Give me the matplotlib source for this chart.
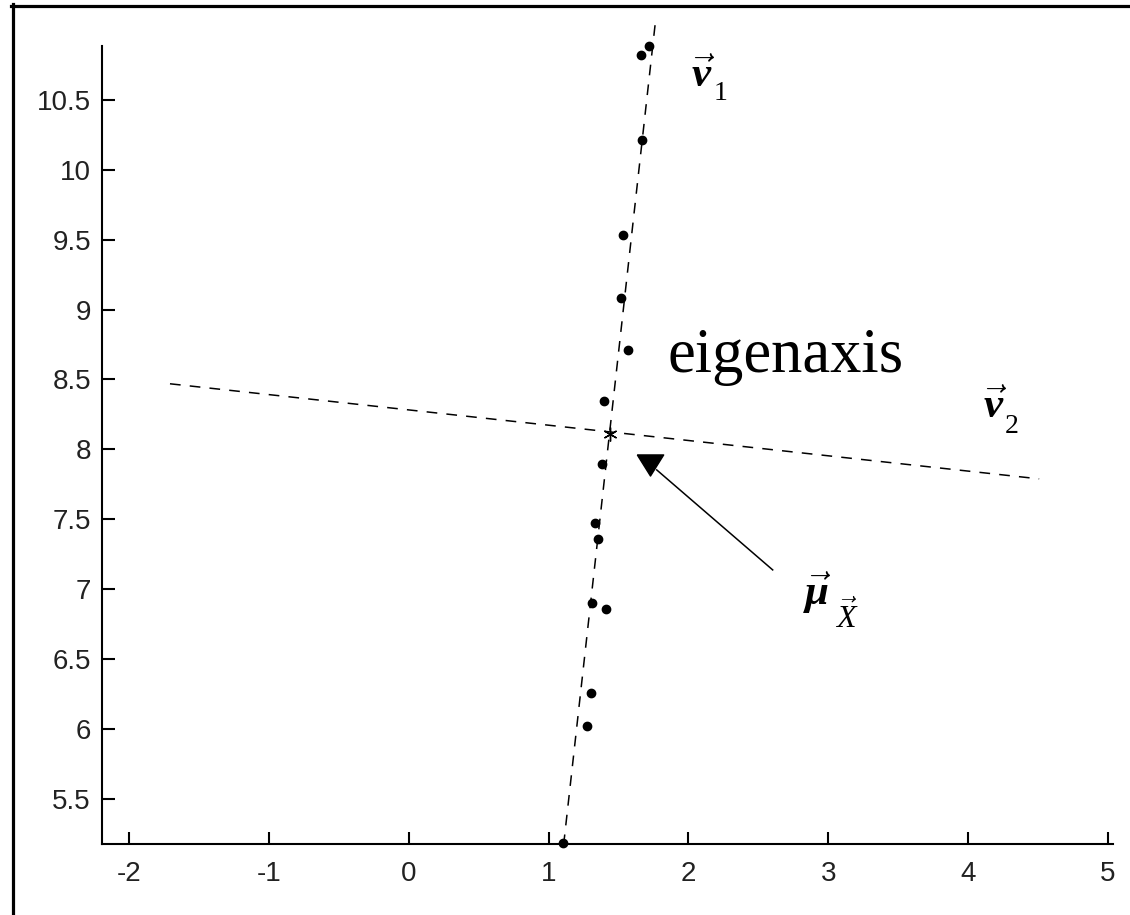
import numpy as np
import matplotlib
matplotlib.use("Agg")
import matplotlib.pyplot as plt
from matplotlib.lines import Line2D

plt.rcParams['mathtext.fontset'] = 'custom'
plt.rcParams['mathtext.it'] = 'Liberation Serif:italic:bold'
plt.rcParams['mathtext.rm'] = 'Liberation Serif'
plt.rcParams['mathtext.bf'] = 'Liberation Serif:bold'
plt.rcParams['mathtext.cal'] = 'Liberation Serif:italic'
plt.rcParams['axes.unicode_minus'] = False

# ---- data ----
pts_x = [1.716, 1.658, 1.665, 1.530, 1.515, 1.565, 1.394, 1.380,
         1.330, 1.351, 1.308, 1.408, 1.301, 1.272, 1.101]
pts_y = [10.886, 10.822, 10.214, 9.534, 9.084, 8.712, 8.347, 7.896,
         7.474, 7.360, 6.902, 6.859, 6.258, 6.022, 5.185]

mean_x = [1.436]
mean_y = [8.11]

v1_x = [1.107, 1.765]
v1_y = [5.17, 11.07]
v2_x = [-1.707, 4.507]
v2_y = [8.469, 7.789]

tri_x = [1.723]
tri_y = [7.889]
arrow_x = [1.773, 2.602]
arrow_y = [7.853, 7.138]

xticks = [-2, -1, 0, 1, 2, 3, 4, 5]
yticks = [5.5, 6, 6.5, 7, 7.5, 8, 8.5, 9, 9.5, 10, 10.5]
ytick_labels = ['5.5', '6', '6.5', '7', '7.5', '8', '8.5', '9', '9.5', '10', '10.5']

# ---- figure ----
fig = plt.figure(figsize=(11.3, 9.15), dpi=100)
ax = fig.add_axes([102/1130, 1-844/915, (1113-102)/1130, (844-45.5)/915])

ax.plot(v1_x, v1_y, color='black', lw=1.1, dashes=(7, 6), clip_on=False)
ax.plot(v2_x, v2_y, color='black', lw=1.1, dashes=(7, 6), clip_on=False)
ax.plot(pts_x, pts_y, 'o', color='black', ms=6, clip_on=False, zorder=3)
ax.plot(mean_x, mean_y, marker=(6, 2, 0), color='black', ms=10, mew=1.0,
        linestyle='none', zorder=4)

tri = [(-0.625, 0.5), (0.625, 0.5), (0.0, -0.5), (-0.625, 0.5)]
ax.plot(tri_x, tri_y, marker=tri, color='black', ms=19, linestyle='none')
ax.plot(arrow_x, arrow_y, color='black', lw=1.1)

ax.set_xlim(-2.193, 5.035)
ax.set_ylim(5.178, 10.888)
ax.set_xticks(xticks)
ax.set_yticks(yticks)
ax.set_yticklabels(ytick_labels)

for s in ['top', 'right']:
    ax.spines[s].set_visible(False)
for s in ['left', 'bottom']:
    ax.spines[s].set_linewidth(1.5)

ax.tick_params(axis='both', direction='in', length=9, width=1.5,
               labelsize=20, labelfontfamily='Liberation Sans')
ax.tick_params(axis='x', pad=12)
ax.tick_params(axis='y', pad=8)
for lab in ax.get_xticklabels() + ax.get_yticklabels():
    lab.set_color('#222222')

ax.text(1.851, 8.554, 'eigenaxis', family='Liberation Serif', fontsize=45,
        ha='left', va='baseline')

# v1 label
ax.text(2.016, 10.593, r'$\vec{v}$', fontsize=31, ha='left',
        va='baseline', clip_on=False)
ax.text(2.180, 10.50, '1', family='Liberation Serif', fontsize=20,
        ha='left', va='baseline')
# v2 label
ax.text(4.103, 8.225, r'$\vec{v}$', fontsize=31, ha='left', va='baseline')
ax.text(4.262, 8.118, '2', family='Liberation Serif', fontsize=20,
        ha='left', va='baseline')
# mu label
ax.text(2.816, 6.888, r'$\vec{\mu}$', fontsize=31, ha='left', va='baseline')
ax.text(3.045, 6.723, r'$\vec{\mathcal{X}}$', fontsize=23, ha='left',
        va='baseline')

# outer frame (top and left edges visible)
fig.add_artist(Line2D([11/1130, 1.0], [1-5.5/915, 1-5.5/915],
                      transform=fig.transFigure, color='black', lw=2.3))
fig.add_artist(Line2D([12.5/1130, 12.5/1130], [0.0, 1-4/915],
                      transform=fig.transFigure, color='black', lw=2.3))

fig.savefig('out.png', dpi=100)
